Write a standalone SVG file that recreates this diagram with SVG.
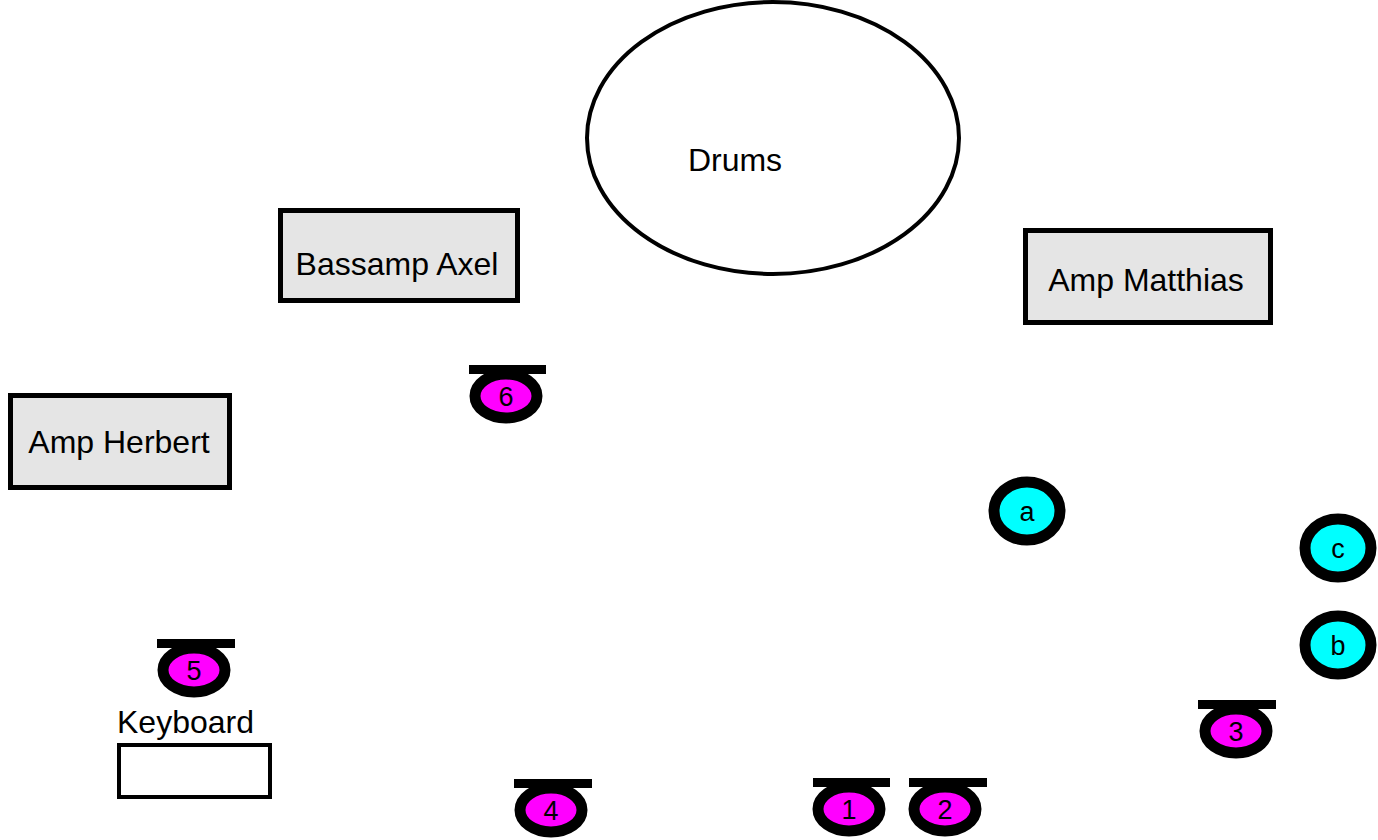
<svg xmlns="http://www.w3.org/2000/svg" width="1378" height="840" viewBox="0 0 1378 840">
<style>
text{font-family:"Liberation Sans",Arial,sans-serif;fill:#000}
.lbl{font-size:32px}
.amp{fill:#e5e5e5;stroke:#000;stroke-width:5}
.bar{fill:#000}
.mon{fill:#ff00ff;stroke:#000;stroke-width:11}
.cy{fill:#00ffff;stroke:#000;stroke-width:11}
.num{font-size:27px;text-anchor:middle}
</style>
<rect width="1378" height="840" fill="#fff"/>
<g id="drums">
<ellipse cx="773" cy="138" rx="186" ry="136" fill="#fff" stroke="#000" stroke-width="4"/>
<text class="lbl" x="735" y="171" text-anchor="middle">Drums</text>
</g>
<g id="bassamp-axel">
<rect class="amp" x="280.5" y="210.5" width="237" height="90"/>
<text class="lbl" x="397" y="275" text-anchor="middle">Bassamp Axel</text>
</g>
<g id="amp-matthias">
<rect class="amp" x="1025.5" y="230.5" width="245" height="92"/>
<text class="lbl" x="1146" y="291" text-anchor="middle">Amp Matthias</text>
</g>
<g id="amp-herbert">
<rect class="amp" x="10.5" y="395.5" width="219" height="92"/>
<text class="lbl" x="119" y="453" text-anchor="middle">Amp Herbert</text>
</g>
<g id="keyboard">
<text class="lbl" x="117" y="733">Keyboard</text>
<rect x="119" y="745" width="151" height="52" fill="#fff" stroke="#000" stroke-width="4"/>
</g>
<g id="mon6"><rect class="bar" x="469" y="365" width="77" height="9"/><ellipse class="mon" cx="506" cy="396" rx="31" ry="22"/><text class="num" x="506" y="406">6</text></g>
<g id="mon5"><rect class="bar" x="157" y="639" width="78" height="9"/><ellipse class="mon" cx="194" cy="670" rx="31" ry="22"/><text class="num" x="194" y="680">5</text></g>
<g id="mon3"><rect class="bar" x="1198" y="700" width="78" height="9"/><ellipse class="mon" cx="1236" cy="731" rx="31" ry="22"/><text class="num" x="1236" y="741">3</text></g>
<g id="mon4"><rect class="bar" x="514" y="779" width="78" height="9"/><ellipse class="mon" cx="551" cy="810" rx="31" ry="22"/><text class="num" x="551" y="820">4</text></g>
<g id="mon1"><rect class="bar" x="813" y="778" width="77" height="9"/><ellipse class="mon" cx="849" cy="809" rx="31" ry="22"/><text class="num" x="849" y="819">1</text></g>
<g id="mon2"><rect class="bar" x="909" y="778" width="78" height="9"/><ellipse class="mon" cx="945" cy="809" rx="31" ry="22"/><text class="num" x="945" y="819">2</text></g>
<g id="a"><ellipse class="cy" cx="1027" cy="511" rx="33" ry="29"/><text class="num" x="1027" y="521">a</text></g>
<g id="c"><ellipse class="cy" cx="1338" cy="548" rx="33" ry="29"/><text class="num" x="1338" y="558">c</text></g>
<g id="b"><ellipse class="cy" cx="1338" cy="645" rx="33" ry="29"/><text class="num" x="1338" y="655">b</text></g>
<g id="connectors"></g>
</svg>
